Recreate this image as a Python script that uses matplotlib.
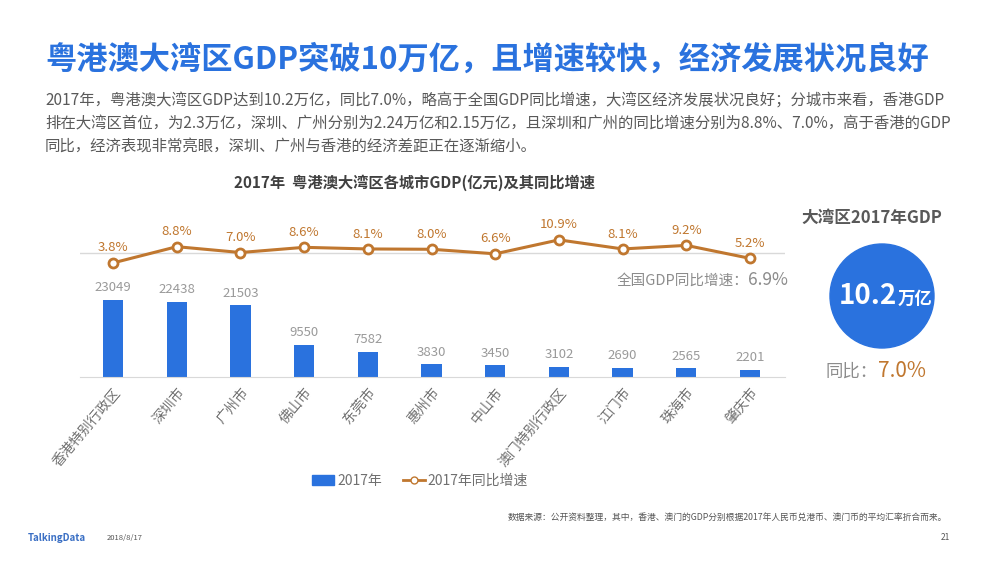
import matplotlib
matplotlib.use("Agg")
import matplotlib.pyplot as plt
from matplotlib.patches import Ellipse, Patch
from matplotlib.lines import Line2D

plt.rcParams['font.family'] = ['Noto Sans CJK SC', 'DejaVu Sans']

# Data
cities = ["香港特别行政区", "深圳市", "广州市", "佛山市", "东莞市", "惠州市",
          "中山市", "澳门特别行政区", "江门市", "珠海市", "肇庆市"]
gdp_2017 = [23049, 22438, 21503, 9550, 7582, 3830, 3450, 3102, 2690, 2565, 2201]
growth_2017 = [3.8, 8.8, 7.0, 8.6, 8.1, 8.0, 6.6, 10.9, 8.1, 9.2, 5.2]
national_growth = 6.9

BLUE = "#2A72DE"
ORANGE = "#C0772F"
GRAY = "#8C8C8C"
TEXT = "#595959"

W, H = 1000, 563
fig = plt.figure(figsize=(10, 5.63), dpi=100)


def fx(px):
    return px / W


def fy(py):
    return 1 - py / H


# Header texts
fig.text(fx(45), fy(60), "粤港澳大湾区GDP突破10万亿，且增速较快，经济发展状况良好",
         fontsize=22.5, fontweight="bold", color=BLUE, va="center", ha="left")
para = ["2017年，粤港澳大湾区GDP达到10.2万亿，同比7.0%，略高于全国GDP同比增速，大湾区经济发展状况良好；分城市来看，香港GDP",
        "排在大湾区首位，为2.3万亿，深圳、广州分别为2.24万亿和2.15万亿，且深圳和广州的同比增速分别为8.8%、7.0%，高于香港的GDP",
        "同比，经济表现非常亮眼，深圳、广州与香港的经济差距正在逐渐缩小。"]
for i, line in enumerate(para):
    fig.text(fx(45), fy(101 + i * 22.5), line, fontsize=11.1, color=TEXT,
             va="center", ha="left")

fig.text(fx(415), fy(183), "2017年  粤港澳大湾区各城市GDP(亿元)及其同比增速",
         fontsize=11, fontweight="bold", color="#404040", va="center", ha="center")

# Chart axes
ax_left, ax_right, ax_bottom, ax_top = 80, 785, 377, 200
ax = fig.add_axes([fx(ax_left), fy(ax_bottom), fx(ax_right - ax_left),
                   (ax_bottom - ax_top) / H])
x = list(range(len(cities)))
ax.bar(x, gdp_2017, width=0.32, color=BLUE, zorder=2)
ax.set_xlim(-0.52, 10.55)
ax.set_ylim(0, 53000)
for xi, v in zip(x, gdp_2017):
    ax.text(xi, v + 1700, str(v), ha="center", va="bottom", fontsize=9.5, color="#9A9A9A")
for s in ["top", "right", "left"]:
    ax.spines[s].set_visible(False)
ax.spines["bottom"].set_color("#D9D9D9")
ax.set_yticks([])
ax.set_xticks(x)
ax.set_xticklabels(cities, rotation=50, ha="right", va="top", rotation_mode="anchor",
                   fontsize=10, color="#707070")
ax.tick_params(axis="x", length=0, pad=6)

# Growth line on a twin axis
ax2 = ax.twinx()
ax2.set_ylim(-31.4, 23.2)
ax2.axhline(national_growth, color="#D9D9D9", lw=1, zorder=1)
ax2.plot(x, growth_2017, color=ORANGE, lw=2.2, marker="o", markersize=6.5,
         markerfacecolor="white", markeredgecolor=ORANGE, markeredgewidth=2, zorder=3)
for xi, v in zip(x, growth_2017):
    ax2.text(xi, v + 2.6, f"{v:.1f}%", ha="center", va="bottom", fontsize=9.5, color=ORANGE)
ax2.axis("off")

fig.text(fx(748), fy(281), "全国GDP同比增速：", fontsize=10.5, color=GRAY,
         va="center", ha="right")
fig.text(fx(748), fy(280), f"{national_growth}%", fontsize=12.5, color=GRAY,
         va="center", ha="left")

# Legend
handles = [Patch(color=BLUE, label="2017年"),
           Line2D([], [], color=ORANGE, lw=2, marker="o", markersize=5,
                  markerfacecolor="white", markeredgecolor=ORANGE, label="2017年同比增速")]
fig.legend(handles=handles, loc="center", bbox_to_anchor=(fx(420), fy(481)), ncol=2,
           frameon=False, fontsize=10, labelcolor="#707070", handlelength=1.6,
           handletextpad=0.2, columnspacing=1.5)

# Right panel
fig.text(fx(872), fy(218), "大湾区2017年GDP", fontsize=12, fontweight="bold",
         color=TEXT, va="center", ha="center")
fig.patches.append(Ellipse((fx(882), fy(296)), fx(104), 104 / H, color=BLUE,
                           transform=fig.transFigure, figure=fig))
fig.text(fx(868), fy(296), "10.2", fontsize=20, fontweight="bold", color="white",
         va="center", ha="center")
fig.text(fx(898), fy(299), "万亿", fontsize=12.5, fontweight="bold", color="white",
         va="center", ha="left")
fig.text(fx(878), fy(372), "同比：", fontsize=12.5, color=GRAY, va="center", ha="right")
fig.text(fx(878), fy(371), "7.0%", fontsize=15, color=ORANGE, va="center", ha="left")

# Footer
fig.text(fx(508), fy(517), "数据来源：公开资料整理，其中，香港、澳门的GDP分别根据2017年人民币兑港币、澳门币的平均汇率折合而来。",
         fontsize=6.3, color="#555555", va="center", ha="left")
fig.text(fx(28), fy(538), "TalkingData", fontsize=7, fontweight="bold", color="#3A6FC4",
         va="center", ha="left")
fig.text(fx(107), fy(538), "2018/8/17", fontsize=5.5, color="#555555", va="center", ha="left")
fig.text(fx(950), fy(537), "21", fontsize=6, color="#555555", va="center", ha="right")

fig.savefig("out.png", dpi=100)
